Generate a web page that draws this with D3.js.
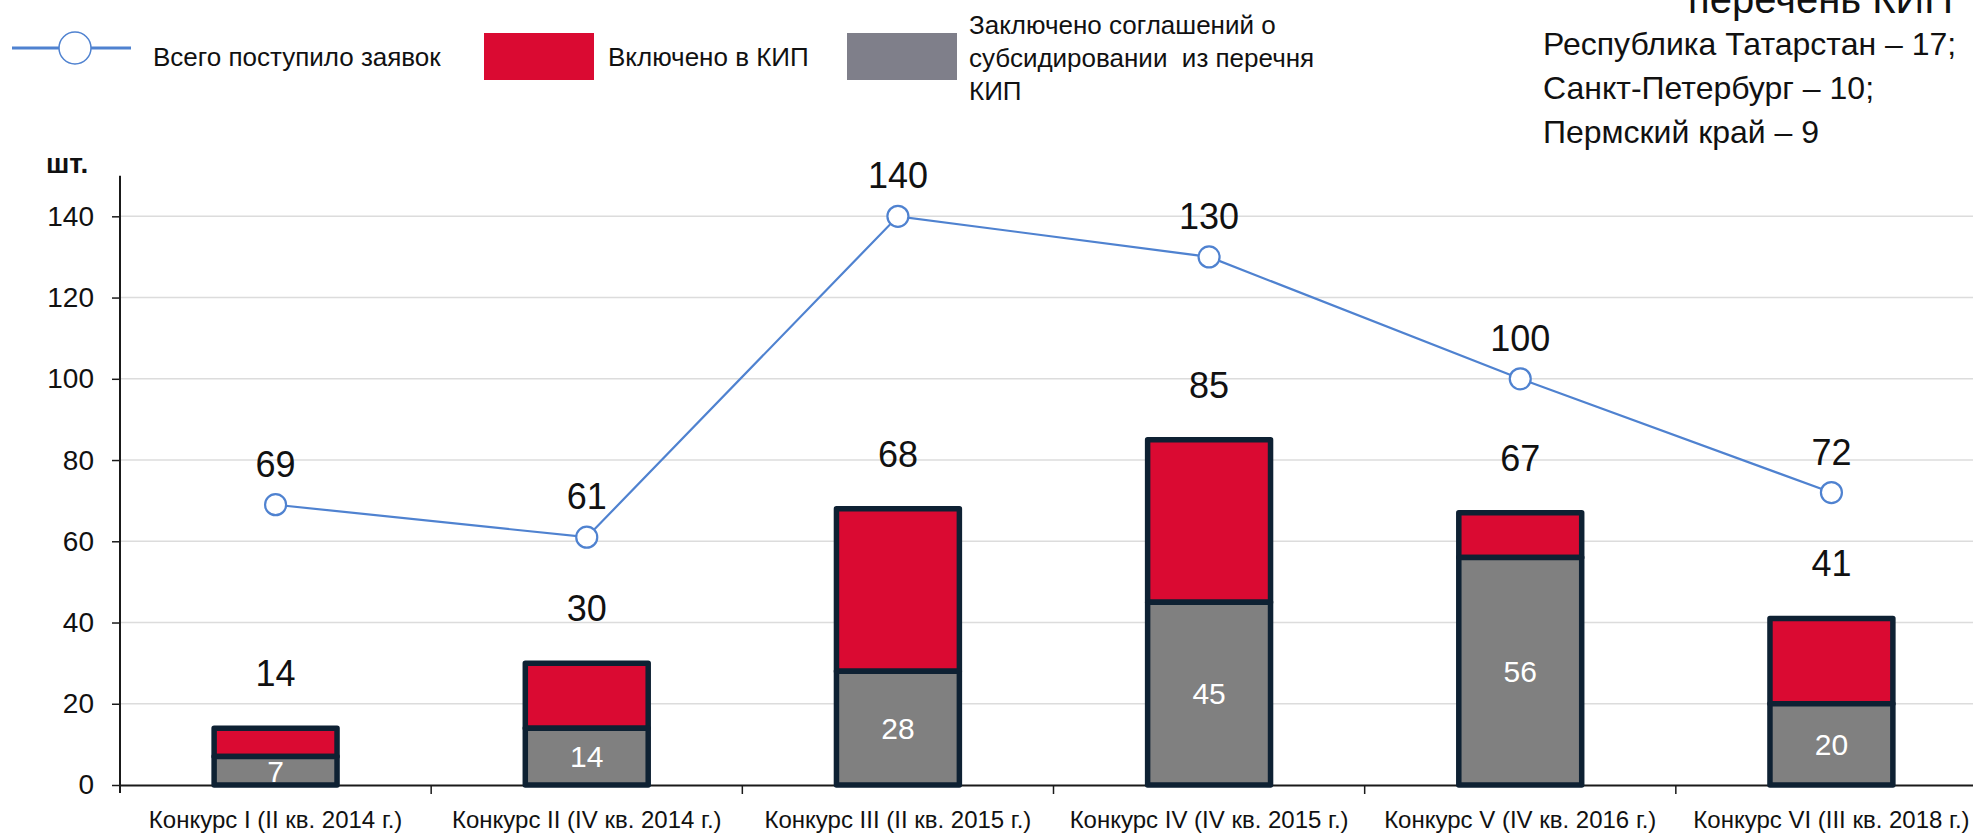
<!DOCTYPE html>
<html>
<head>
<meta charset="utf-8">
<script src="https://cdn.jsdelivr.net/npm/d3@7"></script>
<style>
  html, body { margin: 0; padding: 0; background: #fff; overflow: hidden; }
  svg { display: block; font-family: "Liberation Sans", Arial, sans-serif; }
</style>
</head>
<body>
<svg id="chart" width="1973" height="833"></svg>
<script>
// Competition rounds
const categories = [
  "Конкурс I (II кв. 2014 г.)",
  "Конкурс II (IV кв. 2014 г.)",
  "Конкурс III (II кв. 2015 г.)",
  "Конкурс IV (IV кв. 2015 г.)",
  "Конкурс V (IV кв. 2016 г.)",
  "Конкурс VI (III кв. 2018 г.)"
];
// Total applications received
const applications = [69, 61, 140, 130, 100, 72];
// Included in the list (КИП), total bar height
const includedTotal = [14, 30, 68, 85, 67, 41];
// Subsidy agreements concluded (lower bar segment)
const agreements = [7, 14, 28, 45, 56, 20];
// Y axis ticks
const yTicks = [0, 20, 40, 60, 80, 100, 120, 140];

const legendLabels = {
  line: "Всего поступило заявок",
  red: "Включено в КИП",
  grey: ["Заключено соглашений о", "субсидировании  из перечня", "КИП"]
};
const noteTitle = "перечень КИП";
const noteLines = ["Республика Татарстан – 17;", "Санкт-Петербург – 10;", "Пермский край – 9"];

const COLORS = {
  red: "#DA0A32",
  grey: "#808080",
  greyLegend: "#7F7F8A",
  outline: "#0E2133",
  line: "#4F82D0",
  grid: "#DCDCDC",
  axis: "#1a1a1a"
};

const svg = d3.select("#chart");

const x = d3.scaleBand().domain(categories).range([120, 1987]).padding(0);
const y = d3.scaleLinear().domain([0, 150]).range([785, 175.7]);
const barW = x.bandwidth() * 0.395;
const cx = d => x(d) + x.bandwidth() / 2;

// Gridlines
svg.append("g")
  .selectAll("line")
  .data(yTicks.filter(t => t > 0))
  .join("line")
  .attr("x1", 120).attr("x2", 1973)
  .attr("y1", d => y(d)).attr("y2", d => y(d))
  .attr("stroke", COLORS.grid).attr("stroke-width", 1.5);

// Y axis
const yAxis = svg.append("g")
  .attr("transform", "translate(120,0)")
  .call(d3.axisLeft(y).tickValues(yTicks).tickSize(8).tickPadding(18).tickSizeOuter(0));
yAxis.select(".domain").remove();
yAxis.selectAll(".tick line").attr("stroke", COLORS.axis).attr("stroke-width", 1.5);
yAxis.selectAll(".tick text")
  .attr("font-size", 28).attr("fill", "#111")
  .attr("font-family", "Liberation Sans, Arial, sans-serif");
svg.append("line")
  .attr("x1", 120).attr("x2", 120)
  .attr("y1", y(150)).attr("y2", 793)
  .attr("stroke", COLORS.axis).attr("stroke-width", 2);

// Unit label
svg.append("text")
  .attr("x", 46).attr("y", 173)
  .attr("font-size", 28).attr("font-weight", "bold").attr("fill", "#111")
  .text("шт.");

// X axis
const xAxis = svg.append("g")
  .attr("transform", `translate(0,${y(0)})`)
  .call(d3.axisBottom(x).tickSize(0).tickPadding(26));
xAxis.select(".domain").attr("stroke", COLORS.axis).attr("stroke-width", 2);
xAxis.selectAll(".tick text")
  .attr("font-size", 24).attr("fill", "#111")
  .attr("font-family", "Liberation Sans, Arial, sans-serif");
// Category separators
svg.append("g")
  .selectAll("line")
  .data(categories.slice(1))
  .join("line")
  .attr("x1", d => x(d)).attr("x2", d => x(d))
  .attr("y1", y(0)).attr("y2", y(0) + 9)
  .attr("stroke", COLORS.axis).attr("stroke-width", 1.5);

// Stacked bars
const rows = categories.map((c, i) => ({
  c, total: includedTotal[i], agreed: agreements[i]
}));

const bars = svg.append("g");
bars.selectAll("rect.red")
  .data(rows)
  .join("rect")
  .attr("class", "red")
  .attr("x", d => cx(d.c) - barW / 2)
  .attr("width", barW)
  .attr("y", d => y(d.total))
  .attr("height", d => y(d.agreed) - y(d.total))
  .attr("fill", COLORS.red)
  .attr("stroke", COLORS.outline).attr("stroke-width", 5.5)
  .attr("stroke-linejoin", "round");
bars.selectAll("rect.grey")
  .data(rows)
  .join("rect")
  .attr("class", "grey")
  .attr("x", d => cx(d.c) - barW / 2)
  .attr("width", barW)
  .attr("y", d => y(d.agreed))
  .attr("height", d => y(0) - y(d.agreed))
  .attr("fill", COLORS.grey)
  .attr("stroke", COLORS.outline).attr("stroke-width", 5.5)
  .attr("stroke-linejoin", "round");

// Values inside the grey segments
svg.append("g")
  .selectAll("text")
  .data(rows)
  .join("text")
  .attr("x", d => cx(d.c))
  .attr("y", d => y(d.agreed / 2))
  .attr("dy", "0.36em")
  .attr("text-anchor", "middle")
  .attr("font-size", 30).attr("fill", "#fff")
  .text(d => d.agreed);

// Totals above the bars
svg.append("g")
  .selectAll("text")
  .data(rows)
  .join("text")
  .attr("x", d => cx(d.c))
  .attr("y", d => y(d.total) - 42)
  .attr("text-anchor", "middle")
  .attr("font-size", 36).attr("fill", "#111")
  .text(d => d.total);

// Applications line
const pts = categories.map((c, i) => ({ c, v: applications[i] }));
svg.append("path")
  .datum(pts)
  .attr("fill", "none")
  .attr("stroke", COLORS.line).attr("stroke-width", 2.2)
  .attr("d", d3.line().x(d => cx(d.c)).y(d => y(d.v)));
svg.append("g")
  .selectAll("circle")
  .data(pts)
  .join("circle")
  .attr("cx", d => cx(d.c)).attr("cy", d => y(d.v))
  .attr("r", 10.5)
  .attr("fill", "#fff")
  .attr("stroke", COLORS.line).attr("stroke-width", 2.2);
svg.append("g")
  .selectAll("text")
  .data(pts)
  .join("text")
  .attr("x", d => cx(d.c))
  .attr("y", d => y(d.v) - 28)
  .attr("text-anchor", "middle")
  .attr("font-size", 36).attr("fill", "#111")
  .text(d => d.v);

// Legend
const lg = svg.append("g");
lg.append("line")
  .attr("x1", 12).attr("x2", 131).attr("y1", 48).attr("y2", 48)
  .attr("stroke", COLORS.line).attr("stroke-width", 3);
lg.append("circle")
  .attr("cx", 75).attr("cy", 48).attr("r", 16)
  .attr("fill", "#fff").attr("stroke", COLORS.line).attr("stroke-width", 1.5);
lg.append("text")
  .attr("x", 153).attr("y", 66)
  .attr("font-size", 26).attr("fill", "#111")
  .text(legendLabels.line);
lg.append("rect")
  .attr("x", 484).attr("y", 33).attr("width", 110).attr("height", 47)
  .attr("fill", COLORS.red);
lg.append("text")
  .attr("x", 608).attr("y", 66)
  .attr("font-size", 26).attr("fill", "#111")
  .text(legendLabels.red);
lg.append("rect")
  .attr("x", 847).attr("y", 33).attr("width", 110).attr("height", 47)
  .attr("fill", COLORS.greyLegend);
lg.selectAll("text.grey")
  .data(legendLabels.grey)
  .join("text")
  .attr("class", "grey")
  .attr("x", 969)
  .attr("y", (d, i) => 34 + i * 33)
  .attr("font-size", 26).attr("fill", "#111")
  .attr("xml:space", "preserve")
  .style("white-space", "pre")
  .text(d => d);

// Regional note, top right (its heading runs off the top edge)
svg.append("text")
  .attr("x", 1688).attr("y", 13)
  .attr("font-size", 40).attr("fill", "#111")
  .text(noteTitle);
svg.append("g")
  .selectAll("text")
  .data(noteLines)
  .join("text")
  .attr("x", 1543)
  .attr("y", (d, i) => 55 + i * 44)
  .attr("font-size", 32).attr("fill", "#111")
  .text(d => d);
</script>
</body>
</html>
